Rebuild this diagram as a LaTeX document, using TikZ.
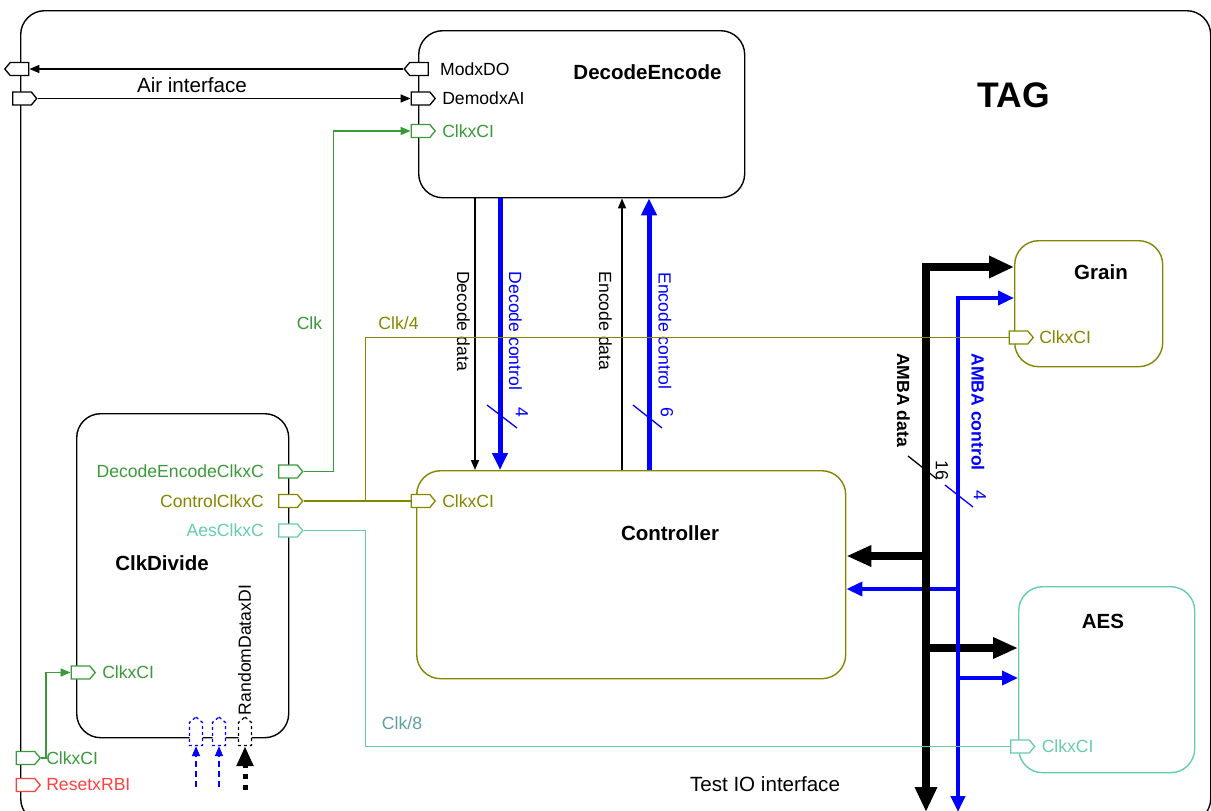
\documentclass[tikz,border=0pt]{standalone}
\usepackage{fontspec}
\setmainfont{Liberation Sans}
\usetikzlibrary{arrows.meta,positioning,shapes.symbols}
\definecolor{clkgreen}{HTML}{3A993A}
\definecolor{clkolive}{HTML}{858500}
\definecolor{clkteal}{HTML}{66CDAA}
\definecolor{clkcadet}{HTML}{5F9EA0}
\definecolor{rstred}{HTML}{FF4040}
\definecolor{busblue}{HTML}{0000FF}

\begin{document}
\begin{tikzpicture}[x=1pt, y=-1pt,
  blk/.style={draw, rounded corners=24pt, line width=1.4pt, inner sep=0, anchor=north west},
  ttl/.style={font=\fontsize{20.5}{22}\selectfont\bfseries, inner sep=0},
  lbl/.style={font=\fontsize{17.6}{20}\selectfont, inner sep=1pt},
  buslbl/.style={font=\fontsize{17.6}{20}\selectfont\bfseries, inner sep=1pt, rotate=-90},
  biglbl/.style={font=\fontsize{20.6}{22}\selectfont, inner sep=0},
  portin/.style={draw, signal, signal to=east, signal pointer angle=100,
                 minimum width=24pt, minimum height=13pt, inner sep=0,
                 line width=1.3pt, fill=white},
  portout/.style={draw, signal, signal to=west, signal pointer angle=100,
                  minimum width=24pt, minimum height=13pt, inner sep=0,
                  line width=1.3pt, fill=white},
  portup/.style={draw, signal, signal to=north, signal pointer angle=100,
                 minimum width=13pt, minimum height=23pt, inner sep=0,
                 line width=1.3pt, fill=white, dashed},
  wire/.style={line width=1.5pt},
  sig/.style={wire, -{Triangle[length=10pt, width=8pt]}},
  ctlbus/.style={line width=5pt, busblue, -{Triangle[length=17pt, width=15pt]}},
  databus/.style={line width=7.5pt, {Triangle[length=25pt, width=21pt]}-{Triangle[length=25pt, width=21pt]}},
  databr/.style={line width=7.5pt, -{Triangle[length=25pt, width=20pt]}},
  ambabus/.style={line width=4pt, busblue, {Triangle[length=16pt, width=14pt]}-{Triangle[length=16pt, width=14pt]}},
  ambabr/.style={line width=3.5pt, busblue, -{Triangle[length=16pt, width=14pt]}},
  slash/.style={line width=1.3pt}
]
  \useasboundingbox (0,0) rectangle (1211,811);

  % outer frame
  \node[blk, minimum width=1190pt, minimum height=812pt] (tag) at (20,10) {};
  \node[font=\fontsize{35.5}{40}\selectfont\bfseries, inner sep=0] (tag-t) at (1013.5,95) {TAG};

  % blocks
  \node[blk, minimum width=326pt, minimum height=167pt] (de) at (418,30) {};
  \node[ttl] (de-t) at (647.5,72) {DecodeEncode};
  \node[blk, draw=clkolive, minimum width=429pt, minimum height=208pt] (ctrl) at (416,470) {};
  \node[ttl] (ctrl-t) at (670,533) {Controller};
  \node[blk, minimum width=212pt, minimum height=324pt] (cdiv) at (76,413) {};
  \node[ttl] (cdiv-t) at (162,563) {ClkDivide};
  \node[blk, draw=clkolive, minimum width=148pt, minimum height=126pt] (grain) at (1014,240) {};
  \node[ttl] (grain-t) at (1101,272) {Grain};
  \node[blk, draw=clkteal, minimum width=176pt, minimum height=186pt] (aes) at (1018,586) {};
  \node[ttl] (aes-t) at (1103,621) {AES};

  % bus positions
  \coordinate (xdd) at (475,0);
  \coordinate (xdc) at (500,0);
  \coordinate (xed) at (622,0);
  \coordinate (xec) at (649,0);
  \coordinate (xad) at (926,0);
  \coordinate (xac) at (958,0);
  \coordinate (yad) at (0,267);
  \coordinate (yac) at (0,298);
  \coordinate (yadc) at (0,556);
  \coordinate (yacc) at (0,589);
  \coordinate (yada) at (0,648);
  \coordinate (yaca) at (0,678);
  \coordinate (ad-end) at (926,812);
  \coordinate (ac-end) at (958,812);

  % DecodeEncode <-> Controller
  \draw[sig] (xdd |- de.south) -- (xdd |- ctrl.north);
  \draw[ctlbus] (xdc |- de.south) -- (xdc |- ctrl.north);
  \draw[sig] (xed |- ctrl.north) -- (xed |- de.south);
  \draw[ctlbus] (xec |- ctrl.north) -- (xec |- de.south);
  \node[lbl, rotate=-90] (l-dd) at (463.5,321) {Decode data};
  \node[lbl, busblue, rotate=-90] (l-dc) at (515.5,331) {Decode control};
  \node[lbl, rotate=-90] (l-ed) at (605.5,321) {Encode data};
  \node[lbl, busblue, rotate=-90] (l-ec) at (665,331) {Encode control};
  \draw[slash, busblue] (487,405) -- (517,428);
  \node[lbl, busblue, rotate=-90] (n-dc) at (522,412) {4};
  \draw[slash, busblue] (633,405) -- (662,428);
  \node[lbl, busblue, rotate=-90] (n-ec) at (667,412) {6};

  % AMBA buses
  \draw[ambabr] (xac |- yacc) -- (ctrl.east |- yacc);
  \draw[databus] (ad-end) |- (grain.west |- yad);
  \draw[databr] (xad |- yadc) -- (ctrl.east |- yadc);
  \draw[databr] (xad |- yada) -- (aes.west |- yada);
  \draw[ambabus] (ac-end) |- (grain.west |- yac);
  \draw[ambabr] (xac |- yaca) -- (aes.west |- yaca);
  \node[buslbl] (l-ad) at (903.5,400) {AMBA data};
  \node[buslbl, busblue] (l-ac) at (978,412) {AMBA control};
  \draw[slash] (908,456) -- (937,479);
  \node[lbl, rotate=-90] (n-ad) at (942,470) {16};
  \draw[slash, busblue] (945,485) -- (973,507);
  \node[lbl, busblue, rotate=-90] (n-ac) at (980,495) {4};

  % ports
  \node[portout] (t-mod) at (19.5,69) {};
  \node[portin] (t-demod) at (22,98.5) {};
  \node[portin, draw=clkgreen] (t-clk) at (25.5,758) {};
  \node[lbl, clkgreen, right=4pt of t-clk] (l-tclk) {ClkxCI};
  \node[portin, draw=rstred] (t-rst) at (25.5,785) {};
  \node[lbl, rstred, right=4pt of t-rst] (l-trst) {ResetxRBI};

  \node[portout] (p-mod) at (419,69) {};
  \node[lbl, right=10pt of p-mod] (l-mod) {ModxDO};
  \node[portin] (p-demod) at (420.5,98.5) {};
  \node[lbl, right=5pt of p-demod] (l-demod) {DemodxAI};
  \node[portin, draw=clkgreen] (p-declk) at (420.5,131) {};
  \node[lbl, clkgreen, right=5pt of p-declk] (l-declk) {ClkxCI};

  \node[portin, draw=clkolive] (p-ctlclk) at (420.5,501) {};
  \node[lbl, clkolive, right=5pt of p-ctlclk] (l-ctlclk) {ClkxCI};
  \node[portin, draw=clkolive] (p-grclk) at (1018.5,337.5) {};
  \node[lbl, clkolive, right=4pt of p-grclk] (l-grclk) {ClkxCI};
  \node[portin, draw=clkteal] (p-aesclk) at (1020,746.5) {};
  \node[lbl, clkteal, right=5pt of p-aesclk] (l-aesclk) {ClkxCI};

  \node[portin, draw=clkgreen] (c-declk) at (288,471.5) {};
  \node[lbl, clkgreen, left=13pt of c-declk] (l-cdeclk) {DecodeEncodeClkxC};
  \node[portin, draw=clkolive] (c-ctlclk) at (288,501) {};
  \node[lbl, clkolive, left=13pt of c-ctlclk] (l-cctlclk) {ControlClkxC};
  \node[portin, draw=clkteal] (c-aesclk) at (288,530.5) {};
  \node[lbl, clkteal, left=13pt of c-aesclk] (l-caesclk) {AesClkxC};
  \node[portin, draw=clkgreen] (c-clk) at (80.5,672.5) {};
  \node[lbl, clkgreen, right=5pt of c-clk] (l-cclk) {ClkxCI};

  \node[portup, draw=busblue] (c-rnd1) at (196,734) {};
  \node[portup, draw=busblue] (c-rnd2) at (219,734) {};
  \node[portup] (c-rnd3) at (245,734) {};
  \node[lbl, rotate=90] (l-rnd) at (244.5,650) {RandomDataxDI};
  \coordinate (r1) at (196,787);
  \coordinate (r2) at (219,787);
  \coordinate (r3) at (245,790);
  \draw[wire, busblue, dash pattern=on 6pt off 4pt, -{Triangle[length=10pt, width=8pt]}] (r1) -- (c-rnd1.south);
  \draw[wire, busblue, dash pattern=on 6pt off 4pt, -{Triangle[length=10pt, width=8pt]}] (r2) -- (c-rnd2.south);
  \draw[line width=5pt, dash pattern=on 5pt off 6pt, -{Triangle[length=20pt, width=16pt]}] (r3) -- (c-rnd3.south);

  % air interface
  \draw[sig] (p-mod.west) -- (t-mod.east);
  \draw[sig] (t-demod.east) -- (p-demod.west);
  \node[biglbl] (air) at (192,85.5) {Air interface};

  % clocks
  \draw[sig, clkgreen] (c-declk.east) -- ++(30,0) |- (p-declk.west);
  \node[lbl, clkgreen] (l-clk) at (309.5,323.5) {Clk};
  \draw[wire, clkolive] (c-ctlclk.east) -- (p-ctlclk.west);
  \draw[wire, clkolive] (c-ctlclk.east) -- ++(62,0) |- (p-grclk.west);
  \node[lbl, clkolive] (l-clk4) at (398.5,323) {Clk/4};
  \draw[wire, clkteal] (c-aesclk.east) -- ++(62,0) |- (p-aesclk.west);
  \node[lbl, clkcadet] (l-clk8) at (402,723.5) {Clk/8};
  \draw[sig, clkgreen] (t-clk.east) -- ++(5,0) |- (c-clk.west);

  \node[biglbl] (testio) at (765,784) {Test IO interface};
\end{tikzpicture}
\end{document}
